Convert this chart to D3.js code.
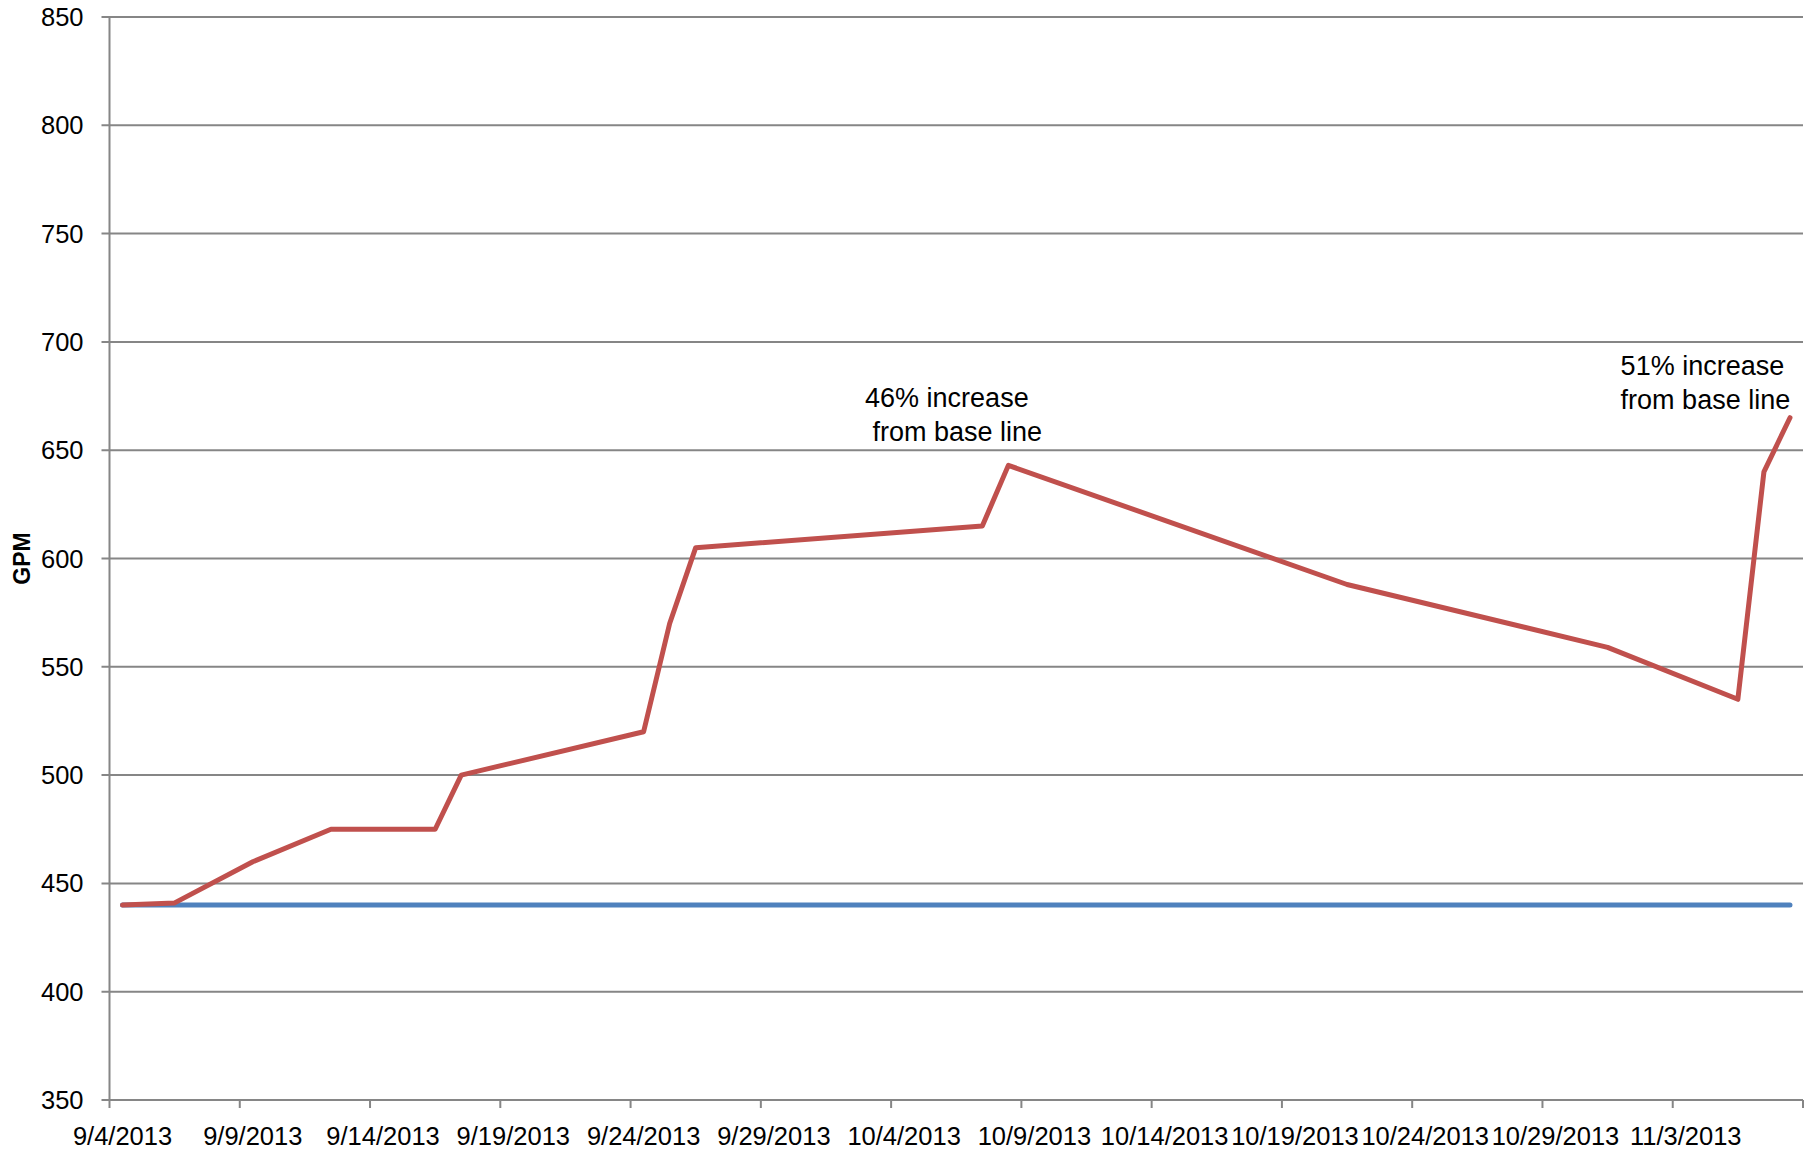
<!DOCTYPE html>
<html>
<head>
<meta charset="utf-8">
<script src="https://cdn.jsdelivr.net/npm/d3@7"></script>
<style>
  html, body { margin: 0; padding: 0; background: #fff; }
  svg { display: block; }
  text { font-family: "Liberation Sans", Arial, sans-serif; fill: #000; }
</style>
</head>
<body>
<script>
// ---- data ----
const dates = ["2013-09-04","2013-09-06","2013-09-09","2013-09-12","2013-09-16","2013-09-17",
               "2013-09-24","2013-09-25","2013-09-26","2013-10-07","2013-10-08","2013-10-21",
               "2013-10-31","2013-11-05","2013-11-06","2013-11-07"];
const gpm = [440,441,460,475,475,500,520,570,605,615,643,588,559,535,640,665];
const baseline = [440,440,440,440,440,440,440,440,440,440,440,440,440,440,440,440];
const xTickDates = ["2013-09-04","2013-09-09","2013-09-14","2013-09-19","2013-09-24","2013-09-29",
                    "2013-10-04","2013-10-09","2013-10-14","2013-10-19","2013-10-24","2013-10-29",
                    "2013-11-03","2013-11-08"];
const xLabelDates = ["2013-09-04","2013-09-09","2013-09-14","2013-09-19","2013-09-24","2013-09-29",
                    "2013-10-04","2013-10-09","2013-10-14","2013-10-19","2013-10-24","2013-10-29",
                    "2013-11-03"];
const yTicks = [350,400,450,500,550,600,650,700,750,800,850];
const xDomain = ["2013-09-04","2013-11-08"];
const yDomain = [350,850];
const annotations = [
  { lines: ["46% increase", " from base line"], date: "2013-10-03", value: 670 },
  { lines: ["51% increase", "from base line"], date: "2013-11-01", value: 684.5 }
];
const yTitle = "GPM";

// ---- layout ----
const W = 1806, H = 1151;
const mLeft = 109.5, mRight = 1803, mTop = 17, mBottom = 1100;
const parse = d3.utcParse("%Y-%m-%d");
const fmt = d3.utcFormat("%-m/%-d/%Y");
const mid = d => d3.utcHour.offset(parse(d), 12);

const x = d3.scaleUtc().domain(xDomain.map(parse)).range([mLeft, mRight]);
const y = d3.scaleLinear().domain(yDomain).range([mBottom, mTop]);

const svg = d3.select("body").append("svg").attr("width", W).attr("height", H);
const grey = "#868686";

// gridlines + y ticks
svg.append("g").selectAll("line").data(yTicks).join("line")
  .attr("x1", mLeft - 8).attr("x2", mRight)
  .attr("y1", d => y(d)).attr("y2", d => y(d))
  .attr("stroke", grey).attr("stroke-width", 2);

// y axis line
svg.append("line").attr("x1", mLeft).attr("x2", mLeft).attr("y1", mTop).attr("y2", mBottom)
  .attr("stroke", grey).attr("stroke-width", 2);

// x ticks
svg.append("g").selectAll("line").data(xTickDates).join("line")
  .attr("x1", d => x(parse(d))).attr("x2", d => x(parse(d)))
  .attr("y1", mBottom).attr("y2", mBottom + 8)
  .attr("stroke", grey).attr("stroke-width", 2);

// y labels
svg.append("g").selectAll("text").data(yTicks).join("text")
  .attr("x", mLeft - 26).attr("y", d => y(d))
  .attr("text-anchor", "end").attr("dominant-baseline", "central")
  .style("font-size", "25.5px")
  .text(d => d);

// x labels
svg.append("g").selectAll("text").data(xLabelDates).join("text")
  .attr("x", d => x(mid(d))).attr("y", mBottom + 45)
  .attr("text-anchor", "middle")
  .style("font-size", "25.5px")
  .text(d => fmt(parse(d)));

// y title
svg.append("text")
  .attr("transform", `translate(30,${(mTop + mBottom) / 2}) rotate(-90)`)
  .attr("text-anchor", "middle")
  .style("font-size", "23px").style("font-weight", "bold")
  .text(yTitle);

// lines
const line = d3.line().x(d => x(mid(d[0]))).y(d => y(d[1]));
svg.append("path").datum(dates.map((d, i) => [d, baseline[i]]))
  .attr("d", line).attr("fill", "none")
  .attr("stroke", "#4F81BD").attr("stroke-width", 5).attr("stroke-linecap", "round");
svg.append("path").datum(dates.map((d, i) => [d, gpm[i]]))
  .attr("d", line).attr("fill", "none")
  .attr("stroke", "#C0504D").attr("stroke-width", 5)
  .attr("stroke-linejoin", "round").attr("stroke-linecap", "round");

// annotations
annotations.forEach(a => {
  const t = svg.append("text")
    .attr("x", x(parse(a.date))).attr("y", y(a.value))
    .style("font-size", "27px").style("white-space", "pre");
  a.lines.forEach((l, i) => {
    t.append("tspan").attr("x", x(parse(a.date))).attr("dy", i === 0 ? 0 : 34).text(l);
  });
});
</script>
</body>
</html>
